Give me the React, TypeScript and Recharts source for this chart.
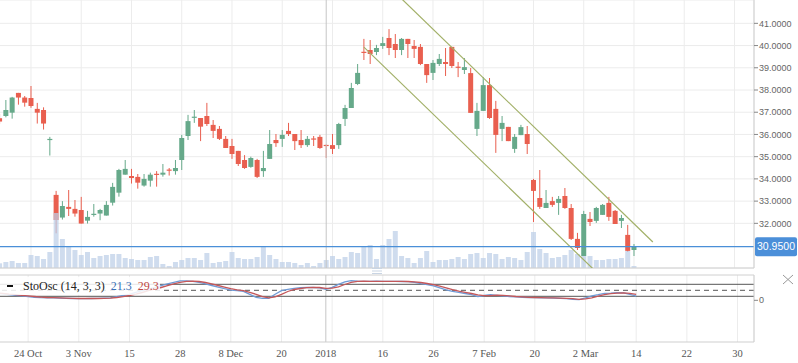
import React from "react";
import {
  Bar,
  CartesianGrid,
  ComposedChart,
  Line,
  ReferenceLine,
  XAxis,
  YAxis,
} from "recharts";

// daily candles, 17 Oct 2017 -> 14 Mar 2018 (trading days)
const OPEN = [
  36.73, 36.83, 36.98, 37.87, 37.66, 37.64, 37.15, 37.1, 35.78, 33.28,
  32.26, 32.74, 32.65, 32.6, 32.12, 32.4, 32.44, 32.35, 32.93, 33.38,
  34.19, 34.13, 34.09, 33.7, 33.92, 34.23, 34.19, 34.42, 34.35, 34.85,
  35.93, 36.77, 36.74, 36.83, 36.43, 36.25, 35.8, 35.48, 35.26, 34.85,
  34.54, 34.85, 34.35, 34.9, 35.75, 35.8, 36.16, 36.02, 35.75, 35.52,
  35.82, 35.89, 35.53, 35.52, 35.52, 36.7, 37.19, 38.27, 39.72, 39.8,
  39.71, 39.98, 40.34, 40.07, 39.8, 40.3, 39.98, 39.94, 39.17, 38.77,
  39.17, 39.26, 39.94, 39.05, 38.9, 38.76, 36.25, 37.06, 38.22, 37.15,
  36.25, 36.34, 35.35, 35.97, 36.02, 33.95, 33.14, 32.69, 33.0, 32.92,
  33.23, 32.69, 31.3, 30.53, 32.2, 32.11, 32.38, 32.92, 32.56, 32.11,
  31.48, 30.8,
];
const HIGH = [
  36.92, 37.55, 37.69, 37.87, 37.73, 38.18, 37.42, 37.22, 35.89, 33.46,
  33.0, 33.5, 33.05, 33.19, 32.56, 32.87, 32.65, 33.0, 33.82, 34.45,
  34.85, 34.45, 34.22, 34.22, 34.28, 34.35, 34.67, 34.49, 34.85, 35.98,
  36.88, 37.1, 36.74, 37.42, 36.65, 36.38, 35.93, 35.8, 35.26, 35.07,
  35.0, 34.9, 35.26, 36.2, 36.02, 36.2, 36.52, 36.02, 36.2, 35.93,
  35.93, 35.98, 35.55, 36.02, 36.52, 37.33, 38.32, 39.17, 40.3, 40.25,
  40.03, 40.39, 40.74, 40.52, 40.34, 40.3, 40.25, 40.07, 39.17, 39.35,
  39.62, 39.89, 39.94, 39.26, 39.44, 38.99, 37.42, 38.58, 38.54, 37.51,
  36.83, 36.34, 36.02, 36.43, 36.38, 34.0, 34.4, 33.5, 33.19, 33.23,
  33.59, 32.87, 31.57, 32.56, 32.51, 32.74, 32.87, 33.19, 32.6, 32.38,
  31.93, 31.07,
];
const LOW = [
  36.47, 36.77, 36.71, 37.34, 37.25, 37.2, 36.49, 36.22, 35.05, 31.55,
  32.17, 32.33, 32.3, 31.99, 31.99, 32.3, 32.14, 32.35, 32.8, 33.2,
  34.19, 33.79, 33.56, 33.65, 33.65, 33.65, 34.1, 34.15, 34.19, 34.4,
  35.75, 36.52, 35.7, 36.38, 35.84, 35.75, 35.39, 34.9, 34.58, 34.45,
  34.5, 34.04, 34.09, 34.9, 35.44, 35.44, 35.93, 35.3, 35.39, 35.44,
  35.48, 35.35, 34.94, 35.12, 35.35, 36.38, 37.19, 38.22, 39.35, 39.17,
  39.57, 39.85, 39.57, 39.44, 39.57, 39.44, 39.44, 39.12, 38.32, 38.45,
  39.08, 38.63, 38.99, 38.58, 38.72, 36.97, 35.93, 37.06, 36.7, 35.17,
  35.7, 35.7, 35.17, 35.97, 35.12, 32.06, 32.65, 32.69, 32.74, 32.38,
  32.65, 31.25, 30.8, 30.53, 31.88, 32.02, 32.38, 32.11, 31.97, 31.79,
  30.71, 30.53,
];
const CLOSE = [
  36.58, 37.1, 37.66, 37.66, 37.43, 37.28, 36.98, 36.49, 35.8, 32.15,
  32.78, 32.65, 32.44, 31.99, 32.29, 32.43, 32.6, 32.83, 33.64, 34.4,
  34.45, 34.04, 33.83, 34.0, 34.19, 34.2, 34.28, 34.38, 34.49, 35.84,
  36.6, 36.8, 36.35, 36.47, 36.16, 35.8, 35.39, 35.12, 34.67, 34.49,
  34.94, 34.09, 34.49, 35.57, 35.61, 35.98, 36.02, 35.7, 35.52, 35.8,
  35.78, 35.39, 35.5, 35.35, 36.47, 37.19, 38.09, 38.77, 39.7, 39.62,
  39.89, 40.11, 39.89, 39.8, 40.3, 40.07, 39.85, 39.17, 38.67, 39.22,
  39.4, 39.17, 39.08, 39.02, 39.03, 36.97, 37.06, 38.22, 36.74, 35.98,
  36.52, 35.7, 35.89, 36.33, 35.57, 33.46, 32.74, 32.92, 32.83, 33.1,
  32.69, 31.3, 30.89, 32.42, 32.06, 32.69, 32.83, 32.29, 31.97, 32.24,
  30.76, 30.95,
];
const VOLUME = [
  4.7, 6, 7, 5, 5, 13, 12, 9, 16, 55,
  29, 22, 18, 13, 16, 10, 12, 13, 14, 14,
  10, 9, 8, 8, 11, 12, 4, 2, 6, 8,
  10, 10, 8, 15, 5, 6, 7, 16, 10, 9,
  9, 11, 21, 13, 9, 6, 6, 5, 3, 5,
  2, 5, 8, 12, 9, 11, 16, 15, 21, 23,
  9, 23, 29, 37, 12, 10, 5, 10, 17, 6,
  8, 8, 9, 11, 9, 14, 15, 10, 15, 14,
  9, 11, 10, 8, 16, 36, 19, 15, 10, 11,
  13, 18, 14, 12, 12, 8, 8, 9, 9, 10,
  17, 2,
];
const STOCH_K = [
  35, 32, 28, 25, 22, 18, 15, 13, 12, 12,
  11, 10, 9, 8, 8, 9, 10, 11, 12, 18,
  24, 30, 40, 48, 56, 64, 73, 82, 90, 97,
  97, 95, 90, 82, 74, 66, 58, 51, 48, 45,
  30, 15, 10, 10, 30, 48, 55, 60, 63, 65,
  64, 62, 55, 65, 80, 92, 98, 96, 95, 95,
  96, 95, 95, 95, 94, 93, 90, 83, 78, 72,
  62, 52, 45, 40, 34, 28, 18, 24, 28, 25,
  22, 19, 17, 15, 14, 13, 12, 12, 11, 10,
  8, 5, 3, 12, 22, 28, 35, 36, 38, 37,
  30, 21.3,
];
const STOCH_D = [
  38, 35, 31, 28, 25, 22, 19, 16, 14, 13,
  12, 11, 10, 9, 9, 9, 9, 10, 11, 14,
  18, 24, 31, 39, 48, 56, 64, 73, 82, 90,
  95, 96, 94, 89, 82, 74, 66, 58, 52, 48,
  40, 30, 18, 12, 17, 30, 44, 54, 59, 63,
  64, 64, 60, 61, 67, 79, 90, 95, 96, 95,
  95, 95, 95, 95, 95, 94, 92, 89, 84, 78,
  71, 62, 53, 46, 40, 34, 27, 23, 23, 26,
  25, 22, 19, 17, 15, 14, 13, 12, 12, 11,
  10, 8, 5, 7, 12, 21, 28, 33, 36, 37,
  35, 29.3,
];

// trend channel anchor points (slot index, price)
const CHANNEL_UPPER = [
  { i: 64, p: 42.105 },
  { i: 104, p: 31.16 },
];
const CHANNEL_LOWER = [
  { i: 58, p: 39.93 },
  { i: 95, p: 29.81 },
];

const LAST_PRICE = 30.95;
const PRICE_TICKS = [32, 33, 34, 35, 36, 37, 38, 39, 40, 41];
const GRID_IDX = [5, 13, 21, 29, 37, 45, 53, 61, 69, 77, 85, 93, 101, 109, 117];
const LABEL_IDX = [5, 13, 21, 29, 37, 45, 52, 61, 69, 77, 85, 93, 101, 109, 117];
const LABELS = [
  "24 Oct", "3 Nov", "15", "28", "8 Dec", "20", "2018", "16",
  "26", "7 Feb", "20", "2 Mar", "14", "22", "30",
];
const YEAR_IDX = 52;
const STOCH_LEVELS = [80, 50, 20];

const N_SLOTS = 120;
const GREEN = "#66a98a";
const RED = "#e95f4f";
const SANS = "'Liberation Sans', Arial, sans-serif";
const SERIF = "'Liberation Serif', 'Times New Roman', serif";

const rows = Array.from({ length: N_SLOTS }, (_, i) => {
  const has = i < CLOSE.length;
  const up = CHANNEL_UPPER.find((p) => p.i === i);
  const lo = CHANNEL_LOWER.find((p) => p.i === i);
  return {
    i,
    o: has ? OPEN[i] : null,
    h: has ? HIGH[i] : null,
    l: has ? LOW[i] : null,
    c: has ? CLOSE[i] : null,
    range: has ? [LOW[i], HIGH[i]] : null,
    vol: has ? VOLUME[i] : null,
    k: has ? STOCH_K[i] : null,
    d: has ? STOCH_D[i] : null,
    chU: up ? up.p : null,
    chL: lo ? lo.p : null,
  };
});

function Candle(props: any) {
  const { x, y, width, height, payload } = props;
  if (!payload || payload.o == null || !isFinite(y)) return <g />;
  const { o, h, l, c } = payload;
  const top = Math.min(y, y + height);
  const span = Math.abs(height);
  const ratio = span / (h - l || 1);
  const color = c >= o ? GREEN : RED;
  const bodyTop = top + (h - Math.max(o, c)) * ratio;
  const bodyH = Math.max(1.2, Math.abs(o - c) * ratio);
  const cx = x + width / 2;
  return (
    <g>
      <line x1={cx} x2={cx} y1={top} y2={top + span} stroke={color} strokeWidth={1} />
      <rect x={cx - width / 2} y={bodyTop} width={width} height={bodyH} fill={color} />
    </g>
  );
}

function PriceTag(props: any) {
  const vb = props.viewBox || {};
  const x = vb.x + vb.width + 1;
  const y = vb.y;
  return (
    <g>
      <rect x={x} y={y - 9.5} width={42} height={19} rx={2} fill="#4b8fd9" />
      <text x={x + 21} y={y + 3.6} textAnchor="middle" fill="#fff" fontSize={10.5} fontFamily={SANS}>
        {LAST_PRICE.toFixed(4)}
      </text>
    </g>
  );
}

const labelFor = (v: number) => {
  const k = LABEL_IDX.indexOf(v);
  return k >= 0 ? LABELS[k] : "";
};

const MARGIN_LEFT = -3.55;
const PAD = { left: 0, right: 3.8 };

export default function App() {
  return (
    <div style={{ position: "absolute", left: 0, top: 0, width: 798, height: 363, background: "#fff" }}>
      <div style={{ position: "absolute", left: 0, top: 0 }}>
        <ComposedChart width={798} height={270} data={rows} margin={{ top: 0, right: 0, bottom: 2, left: MARGIN_LEFT }}>
          <XAxis xAxisId="p" dataKey="i" type="category" hide height={0} ticks={GRID_IDX} interval={0} padding={PAD} />
          <XAxis xAxisId="v" dataKey="i" type="category" hide height={0} orientation="top" padding={PAD} />
          <YAxis
            yAxisId="price"
            orientation="right"
            width={44}
            domain={[29.99, 42.05]}
            allowDataOverflow
            ticks={PRICE_TICKS}
            interval={0}
            tickFormatter={(v: number) => v.toFixed(4)}
            tick={{ fill: "#666", fontSize: 9, fontFamily: SANS }}
            tickSize={4}
            tickMargin={1}
            axisLine={{ stroke: "#cfcfcf" }}
            tickLine={{ stroke: "#888" }}
          />
          <YAxis yAxisId="vol" hide domain={[0, 268]} />
          <CartesianGrid xAxisId="p" yAxisId="price" stroke="#ececec" />
          <ReferenceLine xAxisId="p" yAxisId="price" y={29.99} stroke="#d0d0d0" />
          <ReferenceLine xAxisId="p" yAxisId="price" x={YEAR_IDX} stroke="#c6c6c6" />
          <Bar xAxisId="p" yAxisId="price" dataKey="range" shape={<Candle />} isAnimationActive={false} />
          <Bar
            xAxisId="v"
            yAxisId="vol"
            dataKey="vol"
            fill="#bccfe8"
            fillOpacity={0.72}
            isAnimationActive={false}
          />
          <Line
            xAxisId="p"
            yAxisId="price"
            dataKey="chU"
            stroke="#a2b068"
            strokeWidth={1.2}
            dot={false}
            connectNulls
            isAnimationActive={false}
          />
          <Line
            xAxisId="p"
            yAxisId="price"
            dataKey="chL"
            stroke="#a2b068"
            strokeWidth={1.2}
            dot={false}
            connectNulls
            isAnimationActive={false}
          />
          <ReferenceLine
            xAxisId="p"
            yAxisId="price"
            y={LAST_PRICE}
            stroke="#4a8fd8"
            strokeWidth={1.2}
            label={<PriceTag />}
          />
        </ComposedChart>
      </div>

      <div style={{ position: "absolute", left: 0, top: 268 }}>
        <ComposedChart width={798} height={95} data={rows} margin={{ top: 7, right: 0, bottom: 0, left: MARGIN_LEFT }}>
          <XAxis
            xAxisId="s"
            dataKey="i"
            type="category"
            ticks={LABEL_IDX}
            interval={0}
            padding={PAD}
            height={21}
            tickFormatter={labelFor}
            tick={{ fill: "#555", fontSize: 10.5, fontFamily: SERIF }}
            tickSize={0}
            tickMargin={8}
            axisLine={{ stroke: "#cfcfcf" }}
            tickLine={false}
          />
          <XAxis
            xAxisId="g"
            dataKey="i"
            type="category"
            orientation="top"
            hide
            height={0}
            ticks={GRID_IDX}
            interval={0}
            padding={PAD}
          />
          <YAxis
            yAxisId="st"
            orientation="right"
            width={44}
            domain={[-208.5, 126.5]}
            allowDataOverflow
            ticks={[0]}
            tick={{ fill: "#666", fontSize: 9, fontFamily: SANS }}
            tickSize={4}
            tickMargin={1}
            axisLine={{ stroke: "#cfcfcf" }}
            tickLine={{ stroke: "#888" }}
          />
          <CartesianGrid xAxisId="g" yAxisId="st" stroke="#ececec" horizontal={false} />
          <ReferenceLine xAxisId="s" yAxisId="st" y={126.5} stroke="#d0d0d0" />
          <ReferenceLine xAxisId="s" yAxisId="st" x={YEAR_IDX} stroke="#c6c6c6" />
          {STOCH_LEVELS.map((lv) => (
            <ReferenceLine
              key={lv}
              xAxisId="s"
              yAxisId="st"
              y={lv}
              stroke="#555"
              strokeDasharray={lv === 50 ? "5 4" : undefined}
            />
          ))}
          <Line
            xAxisId="s"
            yAxisId="st"
            dataKey="k"
            stroke="#6f9ad6"
            strokeWidth={1.3}
            dot={false}
            isAnimationActive={false}
          />
          <Line
            xAxisId="s"
            yAxisId="st"
            dataKey="d"
            stroke="#c4575a"
            strokeWidth={1.3}
            dot={false}
            isAnimationActive={false}
          />
        </ComposedChart>
      </div>

      <div
        style={{
          position: "absolute",
          left: 0,
          top: 277,
          width: 160,
          height: 18,
          background: "rgba(255,255,255,0.85)",
          fontFamily: SERIF,
          fontSize: 12,
          lineHeight: "18px",
          whiteSpace: "nowrap",
        }}
      >
        <span style={{ display: "inline-block", width: 6, height: 2, background: "#111", margin: "0 10px 3px 7px" }} />
        <span style={{ color: "#222" }}>StoOsc (14, 3, 3)</span>
        <span style={{ color: "#3a70b6", marginLeft: 6 }}>{STOCH_K[STOCH_K.length - 1]}</span>
        <span style={{ color: "#c0463f", marginLeft: 6 }}>{STOCH_D[STOCH_D.length - 1]}</span>
      </div>

      <svg style={{ position: "absolute", left: 371, top: 267 }} width={12} height={8}>
        <line x1={1} x2={11} y1={1.5} y2={1.5} stroke="#c9d5e4" />
        <line x1={1} x2={11} y1={4} y2={4} stroke="#c9d5e4" />
        <line x1={1} x2={11} y1={6.5} y2={6.5} stroke="#c9d5e4" />
      </svg>
      <svg style={{ position: "absolute", left: 782, top: 274 }} width={12} height={11}>
        <line x1={1} x2={11} y1={1} y2={10} stroke="#999" />
        <line x1={11} x2={1} y1={1} y2={10} stroke="#999" />
      </svg>
    </div>
  );
}
